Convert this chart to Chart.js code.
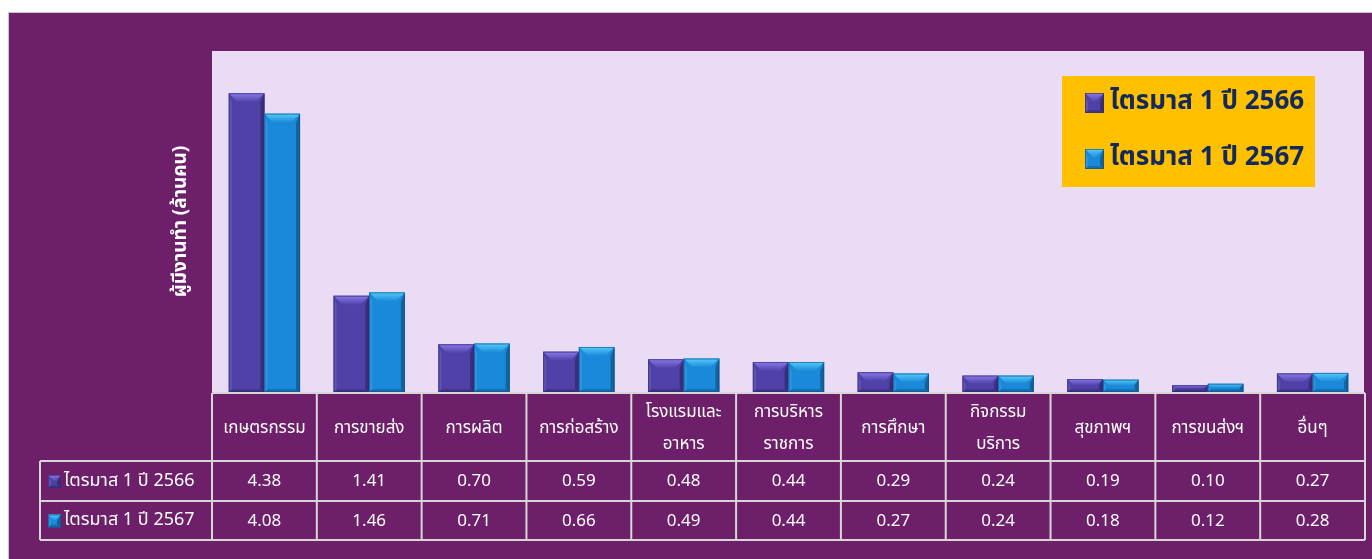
<!DOCTYPE html>
<html>
<head>
<meta charset="utf-8">
<script src="https://cdn.jsdelivr.net/npm/chart.js@4.4.0/dist/chart.umd.min.js"></script>
<style>
    html, body { margin: 0; padding: 0; background: #fff; overflow: hidden; }
    #wrap { width: 1372px; height: 559px; }
</style>
</head>
<body>
<div id="wrap"><canvas id="myChart" width="1372" height="559"></canvas></div>
<script>
const categories = [['เกษตรกรรม'], ['การขายส่ง'], ['การผลิต'], ['การก่อสร้าง'], ['โรงแรมและ', 'อาหาร'], ['การบริหาร', 'ราชการ'], ['การศึกษา'], ['กิจกรรม', 'บริการ'], ['สุขภาพฯ'], ['การขนส่งฯ'], ['อื่นๆ']];
const seriesNames = ['ไตรมาส 1 ปี 2566', 'ไตรมาส 1 ปี 2567'];
const values2566 = [4.38, 1.41, 0.70, 0.59, 0.48, 0.44, 0.29, 0.24, 0.19, 0.10, 0.27];
const values2567 = [4.08, 1.46, 0.71, 0.66, 0.49, 0.44, 0.27, 0.24, 0.18, 0.12, 0.28];
const yTitle = 'ผู้มีงานทำ (ล้านคน)';

const FONT = 'Tahoma, "Noto Sans Thai", "Leelawadee UI", "DejaVu Sans", sans-serif';
const PURPLE_BG = '#6d1f69';
const PLOT_BG = '#eadcf4';
const LINE = '#d6d6d6';
// main, light top, dark edge
const barStyles = [
    { main: '#5041a8', light: '#8a7ae8', dark: '#2f2676' },
    { main: '#1a89d9', light: '#55ccf8', dark: '#0e4f8c' }
];

function bevelBox(ctx, L, T, R, B, st) {
    var w = R - L, h = B - T;
    var d = Math.min(9, h / 2, w / 2);
    ctx.save();
    ctx.fillStyle = st.main;
    ctx.fillRect(L, T, w, h);
    // left light strip
    ctx.fillStyle = 'rgba(255,255,255,0.10)';
    ctx.beginPath();
    ctx.moveTo(L, T); ctx.lineTo(L + 3, T + d); ctx.lineTo(L + 3, B - 2); ctx.lineTo(L, B);
    ctx.closePath(); ctx.fill();
    // right dark strip
    ctx.fillStyle = 'rgba(0,0,0,0.28)';
    ctx.beginPath();
    ctx.moveTo(R, T); ctx.lineTo(R - 4, T + d); ctx.lineTo(R - 4, B - 3); ctx.lineTo(R, B);
    ctx.closePath(); ctx.fill();
    // bottom dark
    ctx.fillStyle = 'rgba(0,0,0,0.18)';
    ctx.beginPath();
    ctx.moveTo(L, B); ctx.lineTo(L + 3, B - 3); ctx.lineTo(R - 4, B - 3); ctx.lineTo(R, B);
    ctx.closePath(); ctx.fill();
    // top face
    var g = ctx.createLinearGradient(0, T, 0, T + d);
    g.addColorStop(0, st.light);
    g.addColorStop(1, st.main);
    ctx.fillStyle = g;
    ctx.beginPath();
    ctx.moveTo(L, T); ctx.lineTo(R, T); ctx.lineTo(R - d, T + d); ctx.lineTo(L + d, T + d);
    ctx.closePath(); ctx.fill();
    ctx.strokeStyle = st.dark;
    ctx.globalAlpha = 0.6;
    ctx.lineWidth = 1;
    ctx.strokeRect(L + 0.5, T + 0.5, w - 1, h - 1);
    ctx.restore();
}

const framePlugin = {
    id: 'frame',
    beforeDraw: function (chart) {
        var ctx = chart.ctx, a = chart.chartArea;
        ctx.save();
        ctx.fillStyle = '#ffffff';
        ctx.fillRect(0, 0, chart.width, chart.height);
        ctx.fillStyle = '#c8c8c8';
        ctx.fillRect(8, 12, chart.width - 8, chart.height - 12);
        ctx.fillStyle = PURPLE_BG;
        ctx.fillRect(9, 13, chart.width - 9, chart.height - 13);
        ctx.fillStyle = PLOT_BG;
        ctx.fillRect(a.left, a.top, a.right - a.left - 1, a.bottom - a.top);
        ctx.restore();
    },
    afterDatasetsDraw: function (chart) {
        var ctx = chart.ctx;
        chart.data.datasets.forEach(function (ds, di) {
            chart.getDatasetMeta(di).data.forEach(function (el) {
                var p = el.getProps(['x', 'y', 'base', 'width'], true);
                bevelBox(ctx, p.x - p.width / 2, p.y, p.x + p.width / 2, p.base, barStyles[di]);
            });
        });
    },
    afterDraw: function (chart) {
        var ctx = chart.ctx, a = chart.chartArea, xs = chart.scales.x;
        ctx.save();

        // y axis title
        ctx.save();
        ctx.translate(182, (a.top + a.bottom) / 2);
        ctx.rotate(-Math.PI / 2);
        ctx.fillStyle = '#ffffff';
        ctx.font = 'bold 19px ' + FONT;
        ctx.textAlign = 'center';
        ctx.textBaseline = 'middle';
        ctx.fillText(yTitle, 0, 0);
        ctx.restore();

        // legend box
        ctx.fillStyle = '#ffc000';
        ctx.fillRect(1062, 76, 253, 111);
        ctx.font = 'bold 26px ' + FONT;
        ctx.textAlign = 'left';
        ctx.textBaseline = 'middle';
        seriesNames.forEach(function (name, i) {
            var cy = 103 + i * 56;
            bevelBox(ctx, 1085, cy - 10, 1104, cy + 10, barStyles[i]);
            ctx.fillStyle = '#13285c';
            ctx.fillText(name, 1110, cy + 1);
        });

        // data table
        var n = categories.length;
        var colW = (xs.right - xs.left) / n;
        var left = xs.left, right = xs.right;
        var yHead = a.bottom + 1, yR1 = 461, yR2 = 501, yEnd = 540;
        var rows = [values2566, values2567];

        ctx.strokeStyle = LINE;
        ctx.lineWidth = 2;
        ctx.beginPath();
        ctx.moveTo(left, yHead); ctx.lineTo(right, yHead);
        ctx.moveTo(40, yR1); ctx.lineTo(right, yR1);
        ctx.moveTo(40, yR2); ctx.lineTo(right, yR2);
        ctx.moveTo(40, yEnd); ctx.lineTo(right, yEnd);
        ctx.moveTo(40, yR1); ctx.lineTo(40, yEnd);
        for (var i = 0; i <= n; i++) {
            var bx = left + i * colW;
            ctx.moveTo(bx, yHead); ctx.lineTo(bx, yEnd);
        }
        ctx.stroke();

        ctx.fillStyle = '#ffffff';
        ctx.textAlign = 'center';
        ctx.textBaseline = 'middle';
        categories.forEach(function (lab, i) {
            var cx = xs.getPixelForValue(i);
            var mid = (yHead + yR1) / 2 + 3;
            ctx.font = '17px ' + FONT;
            if (lab.length === 1) {
                ctx.fillText(lab[0], cx, mid);
            } else {
                ctx.fillText(lab[0], cx, mid - 16);
                ctx.fillText(lab[1], cx, mid + 16);
            }
            ctx.font = '17px ' + FONT;
            rows.forEach(function (vals, r) {
                var cy = r === 0 ? (yR1 + yR2) / 2 + 2 : (yR2 + yEnd) / 2 + 2;
                ctx.fillText(vals[i].toFixed(2), cx, cy);
            });
        });

        ctx.textAlign = 'left';
        ctx.font = '18px ' + FONT;
        seriesNames.forEach(function (name, r) {
            var cy = r === 0 ? (yR1 + yR2) / 2 + 1 : (yR2 + yEnd) / 2 + 1;
            bevelBox(ctx, 48, cy - 7, 61, cy + 6, barStyles[r]);
            ctx.fillStyle = '#ffffff';
            ctx.fillText(name, 64, cy);
        });
        ctx.restore();
    }
};

new Chart(document.getElementById('myChart'), {
    type: 'bar',
    data: {
        labels: categories,
        datasets: [{
            label: seriesNames[0],
            data: values2566,
            backgroundColor: barStyles[0].main,
            borderWidth: 0
        }, {
            label: seriesNames[1],
            data: values2567,
            backgroundColor: barStyles[1].main,
            borderWidth: 0
        }]
    },
    options: {
        responsive: false,
        animation: false,
        devicePixelRatio: 1,
        layout: { padding: { left: 212, top: 51, right: 7, bottom: 167 } },
        datasets: { bar: { categoryPercentage: 0.68, barPercentage: 1 } },
        scales: {
            x: { display: false },
            y: { display: false, min: 0, max: 5 }
        },
        plugins: {
            legend: { display: false },
            tooltip: { enabled: false }
        }
    },
    plugins: [framePlugin]
});
</script>
</body>
</html>
